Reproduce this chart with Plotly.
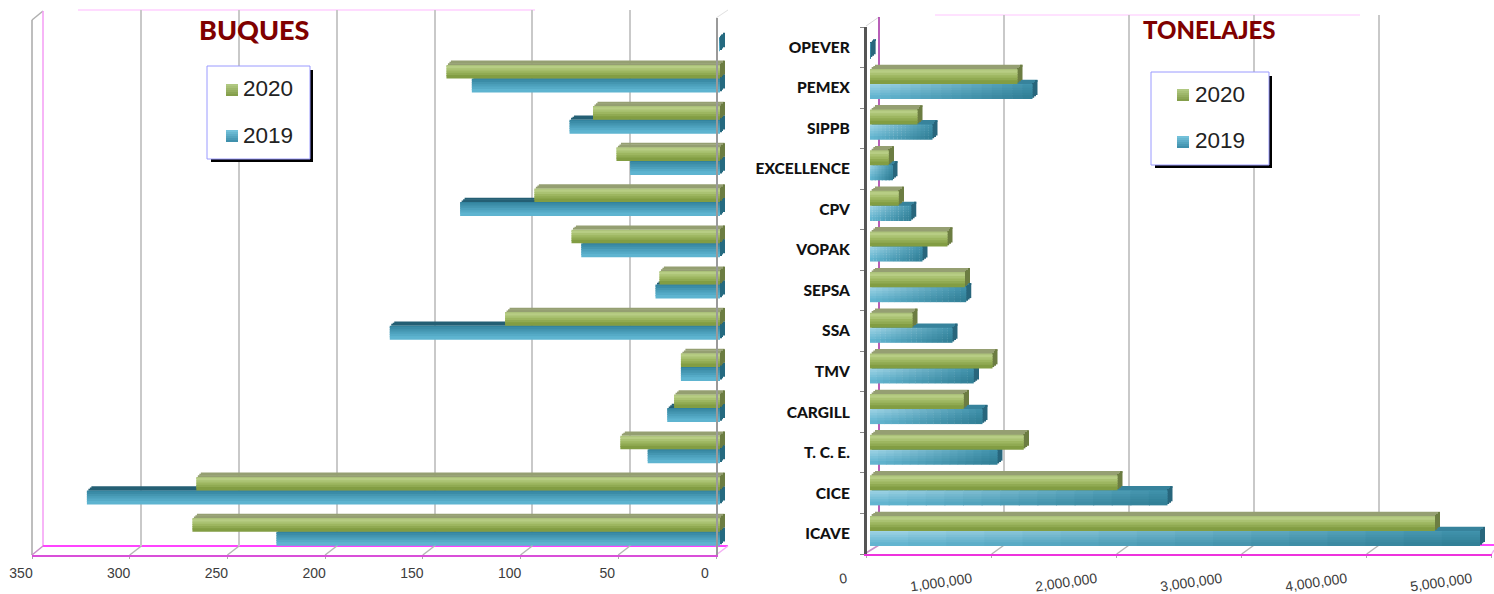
import plotly.graph_objects as go

categories = ["ICAVE", "CICE", "T. C. E.", "CARGILL", "TMV", "SSA", "SEPSA",
              "VOPAK", "CPV", "EXCELLENCE", "SIPPB", "PEMEX", "OPEVER"]
buques_2020 = [270, 268, 51, 23.5, 20, 110, 31, 76, 95, 53, 65, 140, None]
buques_2019 = [227, 324, 37, 27, 20, 169, 33, 71, 133, 46, 77, 127, 0.5]
tonelajes_2020 = [4520000, 1980000, 1230000, 750000, 980000, 340000, 760000,
                  620000, 230000, 150000, 380000, 1180000, None]
tonelajes_2019 = [4880000, 2380000, 1020000, 900000, 830000, 660000, 770000,
                  420000, 330000, 180000, 500000, 1300000, 5000]
buques_ticks = [350, 300, 250, 200, 150, 100, 50, 0]
tonelajes_ticks = [0, 1000000, 2000000, 3000000, 4000000, 5000000]

W, H = 1494, 594
fx = lambda p: p / W
fy = lambda p: 1 - p / H
xdom = lambda a, b: [fx(a), fx(b)]
ydom = lambda top, bot: [fy(bot), fy(top)]


def hexrgb(c):
    return [int(c[i:i + 2], 16) for i in (1, 3, 5)]


def mix(a, b, t):
    a, b = hexrgb(a), hexrgb(b)
    return "rgb(%d,%d,%d)" % tuple(round(p + (q - p) * t) for p, q in zip(a, b))


def ramp(stops, t):
    for (t0, c0), (t1, c1) in zip(stops, stops[1:]):
        if t <= t1:
            return mix(c0, c1, (t - t0) / (t1 - t0))
    return mix(stops[-1][1], stops[-1][1], 0)


GREEN = [(0, "#a3b872"), (0.22, "#b9cf87"), (0.55, "#a0b963"), (1, "#7b973c")]
fig = go.Figure()
STEPS = 3
BANDS = 6
OVER = 0.03


def add_bars(values, name, xa, ya, sign, pos, hgt, dy_frac, depth, face, top_c, side_c, segs):
    """Draw one series as layered bars: top face, end face, then shaded front bands."""
    def tr(x, base, off, wid, color):
        fig.add_trace(go.Bar(y=categories, x=x, base=base, offset=off, width=wid, orientation="h",
                             marker=dict(color=color, line=dict(width=0)), name=name,
                             xaxis=xa, yaxis=ya, showlegend=False, hoverinfo="skip"))

    for k in range(1, STEPS + 1):
        f = k / STEPS
        # receding top face (stepped to read as a parallelogram)
        tr(values, [None if v is None else sign * f * depth for v in values],
           pos + hgt + dy_frac * (k - 1) / STEPS, dy_frac / STEPS + 0.004, top_c)
        # receding end face
        if sign > 0:
            base = [None if v is None else v + (k - 1) / STEPS * depth for v in values]
            xs = [None if v is None else depth / STEPS for v in values]
        else:
            base = [None if v is None else -(k - 1) / STEPS * depth for v in values]
            xs = [None if v is None else -depth / STEPS for v in values]
        tr(xs, base, pos + dy_frac * f, hgt, side_c)
    for i in range(BANDS):
        t = (i + 0.5) / BANDS
        off = pos + hgt * (1 - (i + 1) / BANDS)
        wid = hgt / BANDS + (OVER if i else 0)
        for j in range(segs):
            h = (j + 0.5) / segs
            ext = 1.06 if j < segs - 1 else 1
            tr([None if v is None else ext * v / segs for v in values],
               [None if v is None else v * j / segs for v in values],
               off, wid, face(t, h))


# ---- left panel: BUQUES (bars at mid plane, zero at px 720, 1.954 px per ship)
LS = 1.954
L0 = 720
left_range = [(L0 - 32) / LS, (L0 - 728) / LS]
left_depth = 4.5 / LS
blue_left = lambda t, h: mix("#2e7d98", "#62b9d5", t)
add_bars(buques_2019, "2019", "x2", "y2", -1, -0.34, 0.34, 0.1, left_depth, blue_left, "#245f74", "#256a80", 1)
add_bars(buques_2020, "2020", "x2", "y2", -1, 0.0, 0.33, 0.1, left_depth,
         lambda t, h: ramp(GREEN, t), "#959f72", "#6c7d42", 1)

# ---- right panel: TONELAJES (zero at px 870, 125 px per million)
RS = 125 / 1e6
R0 = 870
right_range = [0, (W - R0) / RS]
right_depth = 5 / RS


def blue_right(t, h):
    def lerp(a, b, s):
        return [p + (q - p) * s for p, q in zip(a, b)]
    tl, tr_ = hexrgb("#a8d8e8"), hexrgb("#3f93ad")
    bl, br = hexrgb("#5fb4d0"), hexrgb("#2f7c93")
    c = lerp(lerp(tl, tr_, h), lerp(bl, br, h), t)
    return "rgb(%d,%d,%d)" % tuple(round(p) for p in c)


add_bars(tonelajes_2019, "2019", "x5", "y5", 1, -0.37, 0.37, 0.1, right_depth, blue_right, "#37839c", "#28667c", 16)
add_bars(tonelajes_2020, "2020", "x5", "y5", 1, 0.0, 0.37, 0.1, right_depth,
         lambda t, h: ramp(GREEN, t), "#959f72", "#6c7d42", 1)


def helper(xa, ya, xs, ys):
    fig.add_trace(go.Scatter(x=xs, y=ys, mode="markers", marker=dict(opacity=0), xaxis=xa, yaxis=ya,
                             showlegend=False, hoverinfo="skip"))


helper("x", "y", buques_ticks, [0] * len(buques_ticks))
helper("x3", "y3", buques_ticks, [0] * len(buques_ticks))
helper("x4", "y4", tonelajes_ticks, [0] * len(tonelajes_ticks))
helper("x6", "y6", [0] * len(categories), categories)

GRID = "#c9c9c9"
TICKF = dict(family="Liberation Sans, Arial, sans-serif", size=14, color="#3c3c3c")
hidden = dict(visible=False, showgrid=False, zeroline=False, automargin=False)
catax = dict(type="category", categoryorder="array", categoryarray=categories, range=[-0.5, 12.5])

layout = dict(
    template="none",
    width=W, height=H, margin=dict(l=0, r=0, t=0, b=0, pad=0), autosize=False,
    paper_bgcolor="white", plot_bgcolor="rgba(0,0,0,0)", barmode="overlay", showlegend=False,
    # left back plane grid
    xaxis=dict(domain=xdom(43.7, 727.7), range=[350, 0], tickvals=[300, 250, 200, 150, 100, 50, 0], showgrid=True,
               gridcolor=GRID, gridwidth=1.5, zeroline=False, showticklabels=False, ticks="", showline=False, automargin=False),
    yaxis=dict(domain=ydom(10, 546), range=[0, 1], **hidden),
    # left bars
    xaxis2=dict(domain=xdom(32, 728), range=left_range, anchor="y2", **hidden),
    yaxis2=dict(domain=ydom(16.7, 552.3), anchor="x2", **catax, **hidden),
    # left front plane
    xaxis3=dict(domain=xdom(32, 716), range=[350, 0], anchor="y3", tickvals=buques_ticks, showgrid=False, zeroline=False,
                showline=True, linecolor="#d94fd9", linewidth=2, ticks="outside", ticklen=2, tickcolor="#aaaaaa",
                tickfont=TICKF, ticklabelshift=11, ticklabelstandoff=2, automargin=False),
    yaxis3=dict(domain=ydom(18, 555), range=[0, 1], anchor="x3", side="right", showgrid=False, zeroline=False,
                showticklabels=False, showline=True, linecolor="#9a9a9a", linewidth=1.5, ticks="", automargin=False),
    # right back plane grid
    xaxis4=dict(domain=xdom(879, W), range=[0, (W - 879) / RS], anchor="y4", tickvals=tonelajes_ticks[1:], showgrid=True,
                gridcolor=GRID, gridwidth=1.5, zeroline=False, showticklabels=False, ticks="", showline=False, automargin=False),
    yaxis4=dict(domain=ydom(15, 545), range=[0, 1], anchor="x4", **hidden),
    # right bars
    xaxis5=dict(domain=xdom(R0, W), range=right_range, anchor="y5", **hidden),
    yaxis5=dict(domain=ydom(23, 551.3), anchor="x5", **catax, **hidden),
    # right front plane, with the category labels
    xaxis6=dict(domain=xdom(866.7, 1491.7), range=[0, 5000000], anchor="y6", tickvals=tonelajes_ticks, tickformat=",d",
                tickangle=-8, showgrid=False, zeroline=False, showline=True, linecolor="#ee33dd", linewidth=2,
                ticks="outside", ticklen=2, tickcolor="#aaaaaa", tickfont=TICKF, ticklabelshift=-20, ticklabelstandoff=8,
                automargin=False),
    yaxis6=dict(domain=ydom(27, 554), anchor="x6", **catax, tickson="boundaries", showgrid=False, zeroline=False,
                showline=True, linecolor="#555555", linewidth=2.5, ticks="outside", ticklen=4, tickcolor="#888888",
                ticklabelstandoff=11, tickfont=dict(family="Lato, sans-serif", size=15.5, color="#111111", weight=900),
                automargin=False),
)


def line(x0, y0, x1, y1, color, width=1.5, layer="below"):
    return dict(type="line", xref="paper", yref="paper", x0=fx(x0), y0=fy(y0), x1=fx(x1), y1=fy(y1),
                line=dict(color=color, width=width), layer=layer)


def rect(x0, y0, x1, y1, fill, lc=None, lw=0, layer="above"):
    return dict(type="rect", xref="paper", yref="paper", x0=fx(x0), y0=fy(y0), x1=fx(x1), y1=fy(y1),
                fillcolor=fill, line=dict(color=lc or fill, width=lw), layer=layer)


shapes = [
    # left wall, top and floor
    line(32, 20, 43, 11, "#b0b0b0"), line(32, 20, 32, 555, "#a8a8a8"),
    line(43, 11, 43, 546, "#f59cf5"), line(78, 10, 535, 10, "#ffcfff"),
    line(43, 546, 728, 546, "#ff44ff", 2), line(32, 555, 43, 546, "#c890c8"),
    line(716, 555, 728, 546, "#f4b0f4"), line(728, 10, 716, 18, "#e0e0e0", 1),
    # right wall, top and floor
    line(866, 26, 879, 17, "#d8d8d8", 1), line(879, 17, 879, 545, "#a02aa0"),
    line(935, 15, 1360, 15, "#ffd9ff"), line(879, 545, W, 545, "#ff44ff", 2),
    line(866, 553, 879, 545, "#c890c8"), line(1491.7, 554, W, 550, "#f4b0f4"),
]
for k in range(1, 7):
    x = 32 + k * 97.7
    shapes.append(line(x, 555, x + 11.7, 546, "#b5b5b5"))
for k in range(1, 5):
    x = 866.7 + k * 125
    shapes.append(line(x, 554, x + 12.5, 545, "#b5b5b5"))


def legend_box(x0, y0, x1, y1, sx, sy1, sy2):
    out = [rect(x0 + 4, y0 + 4, x1 + 3, y1 + 3, "#000000"), rect(x0, y0, x1, y1, "#ffffff", "#9a9aff", 1)]
    g = [(0, "#b5cc86"), (1, "#7f9a45")]
    b = [(0, "#78c6de"), (1, "#3a8ba8")]
    for sy, st in ((sy1, g), (sy2, b)):
        for i in range(6):
            out.append(rect(sx, sy + i * 2, sx + 12, sy + (i + 1) * 2, ramp(st, (i + 0.5) / 6)))
    return out


shapes += legend_box(207, 66, 310, 159, 226, 84, 130)
shapes += legend_box(1151, 72, 1269, 165, 1177, 89, 136)
layout["shapes"] = shapes


def text(s, x, y, size, color, family, anchor="center", weight=None):
    f = dict(size=size, color=color, family=family)
    if weight:
        f["weight"] = weight
    return dict(text=s, xref="paper", yref="paper", x=fx(x), y=fy(y), xanchor=anchor, yanchor="middle",
                showarrow=False, font=f)


ARIAL = "Liberation Sans, Arial, sans-serif"
layout["annotations"] = [
    text("BUQUES", 254, 29, 27, "#7f0000", "Lato, sans-serif", weight=900),
    text("TONELAJES", 1209, 29, 24, "#7f0000", "Lato, sans-serif", weight=900),
    text("2020", 241, 88, 22.5, "#222222", ARIAL, "left"),
    text("2019", 241, 135, 22.5, "#222222", ARIAL, "left"),
    text("2020", 1193, 94, 22.5, "#222222", ARIAL, "left"),
    text("2019", 1193, 141, 22.5, "#222222", ARIAL, "left"),
]
fig.update_layout(**layout)
fig.write_html("out.html", config={"displayModeBar": False},
               post_script="document.body.style.margin='0';document.body.style.overflow='hidden';")
